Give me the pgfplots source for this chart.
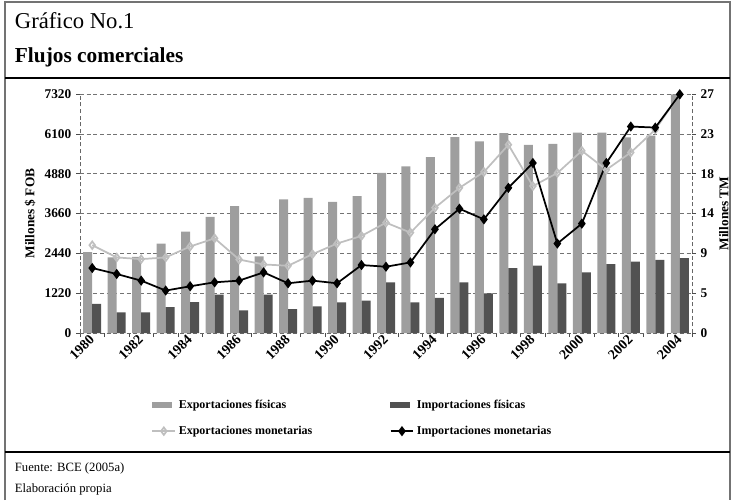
\documentclass[border=0pt]{standalone}
\usepackage{fontspec}
\setmainfont{Liberation Serif}
\usepackage{pgfplots}
\usepackage{pgfplotstable}
\pgfplotsset{compat=1.18}

\pgfplotstableread{
year expf impf expm impm
1980 9.15 3.29 2690 1990
1981 8.54 2.32 2314 1807
1982 8.61 2.32 2263 1604
1983 10.11 2.92 2314 1300
1984 11.46 3.48 2650 1431
1985 13.11 4.34 2900 1553
1986 14.34 2.55 2250 1604
1987 8.65 4.34 2100 1857
1988 15.09 2.70 2060 1523
1989 15.27 3.00 2416 1604
1990 14.82 3.45 2740 1523
1991 15.46 3.67 2974 2081
1992 18.08 5.73 3380 2030
1993 18.83 3.45 3075 2162
1994 19.88 3.97 3837 3177
1995 22.13 5.73 4446 3806
1996 21.64 4.49 4933 3481
1997 22.57 7.34 5765 4446
1998 21.26 7.60 4500 5207
1999 21.38 5.62 4900 2740
2000 22.65 6.85 5580 3350
2001 22.65 7.79 5000 5207
2002 22.09 8.05 5530 6323
2003 22.31 8.27 6230 6292
2004 26.96 8.46 7320 7308
}\data

\colorlet{expbar}{black!38}
\colorlet{impbar}{black!68}
\colorlet{expline}{black!25}

\pgfplotsset{
  common/.style={
    at={(60pt,-249.75pt)}, anchor=south west,
    scale only axis, width=459pt, height=179.25pt,
    xmin=1979.5, xmax=2004.5,
    tick align=outside, major tick length=3pt, minor tick length=3pt,
    tick style={black!70, thin},
    axis line style={densely dashed, black!60, thin},
    ticklabel style={font=\bfseries\fontsize{10}{12}\selectfont},
    label style={font=\bfseries\fontsize{10}{12}\selectfont},
  }
}

\begin{document}
\begin{tikzpicture}
\useasboundingbox (0,0) rectangle (549pt,-375pt);
\draw[black!55, line width=0.8pt] (3.75pt,-375pt) -- (3.75pt,-1.5pt) -- (547.5pt,-1.5pt) -- (547.5pt,-375pt);
\draw[line width=1.5pt] (3.75pt,-58.5pt) -- (547.5pt,-58.5pt);
\draw[line width=1.5pt] (3.75pt,-339pt) -- (547.5pt,-339pt);
\node[anchor=base west, inner sep=0pt, font=\fontsize{17}{20}\selectfont] at (11pt,-21pt) {Gráfico No.1};
\node[anchor=base west, inner sep=0pt, font=\fontsize{16}{19}\selectfont\bfseries] at (11pt,-46.5pt) {Flujos comerciales};
\node[anchor=base west, inner sep=0pt, font=\fontsize{9.5}{11}\selectfont] at (11pt,-353.5pt) {Fuente: BCE (2005a)};
\node[anchor=base west, inner sep=0pt, font=\fontsize{9.5}{11}\selectfont] at (11pt,-369pt) {Elaboración propia};

\begin{axis}[common,
  ymin=0, ymax=27,
  axis y line*=right, axis x line*=bottom,
  ybar=0pt, bar width=6.75pt,
  ytick={0,4.5,9,13.5,18,22.5,27}, yticklabels={0,5,9,14,18,23,27},
  xtick={1980,1982,...,2004},
  xticklabels={1980,1982,1984,1986,1988,1990,1992,1994,1996,1998,2000,2002,2004},
  major x tick style={draw=none},
  minor xtick={1979.5,1980.5,...,2004.5},
  xticklabel style={rotate=45, anchor=east, xshift=3pt, font=\bfseries\fontsize{10.5}{12}\selectfont},
  ymajorgrids, grid style={densely dashed, black!55, thin},
  ylabel={Millones TM},
  ylabel style={yshift=3pt},
]
\addplot[fill=expbar, draw=none] table[x=year,y=expf]{\data};
\addplot[fill=impbar, draw=none] table[x=year,y=impf]{\data};
\end{axis}

\begin{axis}[common,
  ymin=0, ymax=7320,
  axis y line*=left, axis x line=none,
  xtick=\empty,
  ytick={0,1220,2440,3660,4880,6100,7320},
  yticklabels={0,1220,2440,3660,4880,6100,7320},
  ylabel={Millones \$ FOB},
  legend columns=2,
  legend cell align=left,
  legend style={draw=none, fill=none, at={(0.11,-0.255)}, anchor=north west,
    font=\bfseries\fontsize{9}{11}\selectfont, row sep=8pt,
    /tikz/every even column/.append style={column sep=56pt}},
]
\addlegendimage{legend image code/.code={\fill[expbar] (0pt,-2pt) rectangle (14pt,2pt);}}
\addlegendentry{Exportaciones físicas}
\addlegendimage{legend image code/.code={\fill[impbar] (0pt,-2pt) rectangle (14pt,2pt);}}
\addlegendentry{Importaciones físicas}
\addplot[expline, line width=1.3pt, mark=diamond, mark size=2.8pt, mark options={solid, fill=white}] table[x=year,y=expm]{\data};
\addlegendentry{Exportaciones monetarias}
\addplot[black, line width=1.3pt, mark=diamond*, mark size=2.8pt] table[x=year,y=impm]{\data};
\addlegendentry{Importaciones monetarias}
\end{axis}
\end{tikzpicture}
\end{document}
